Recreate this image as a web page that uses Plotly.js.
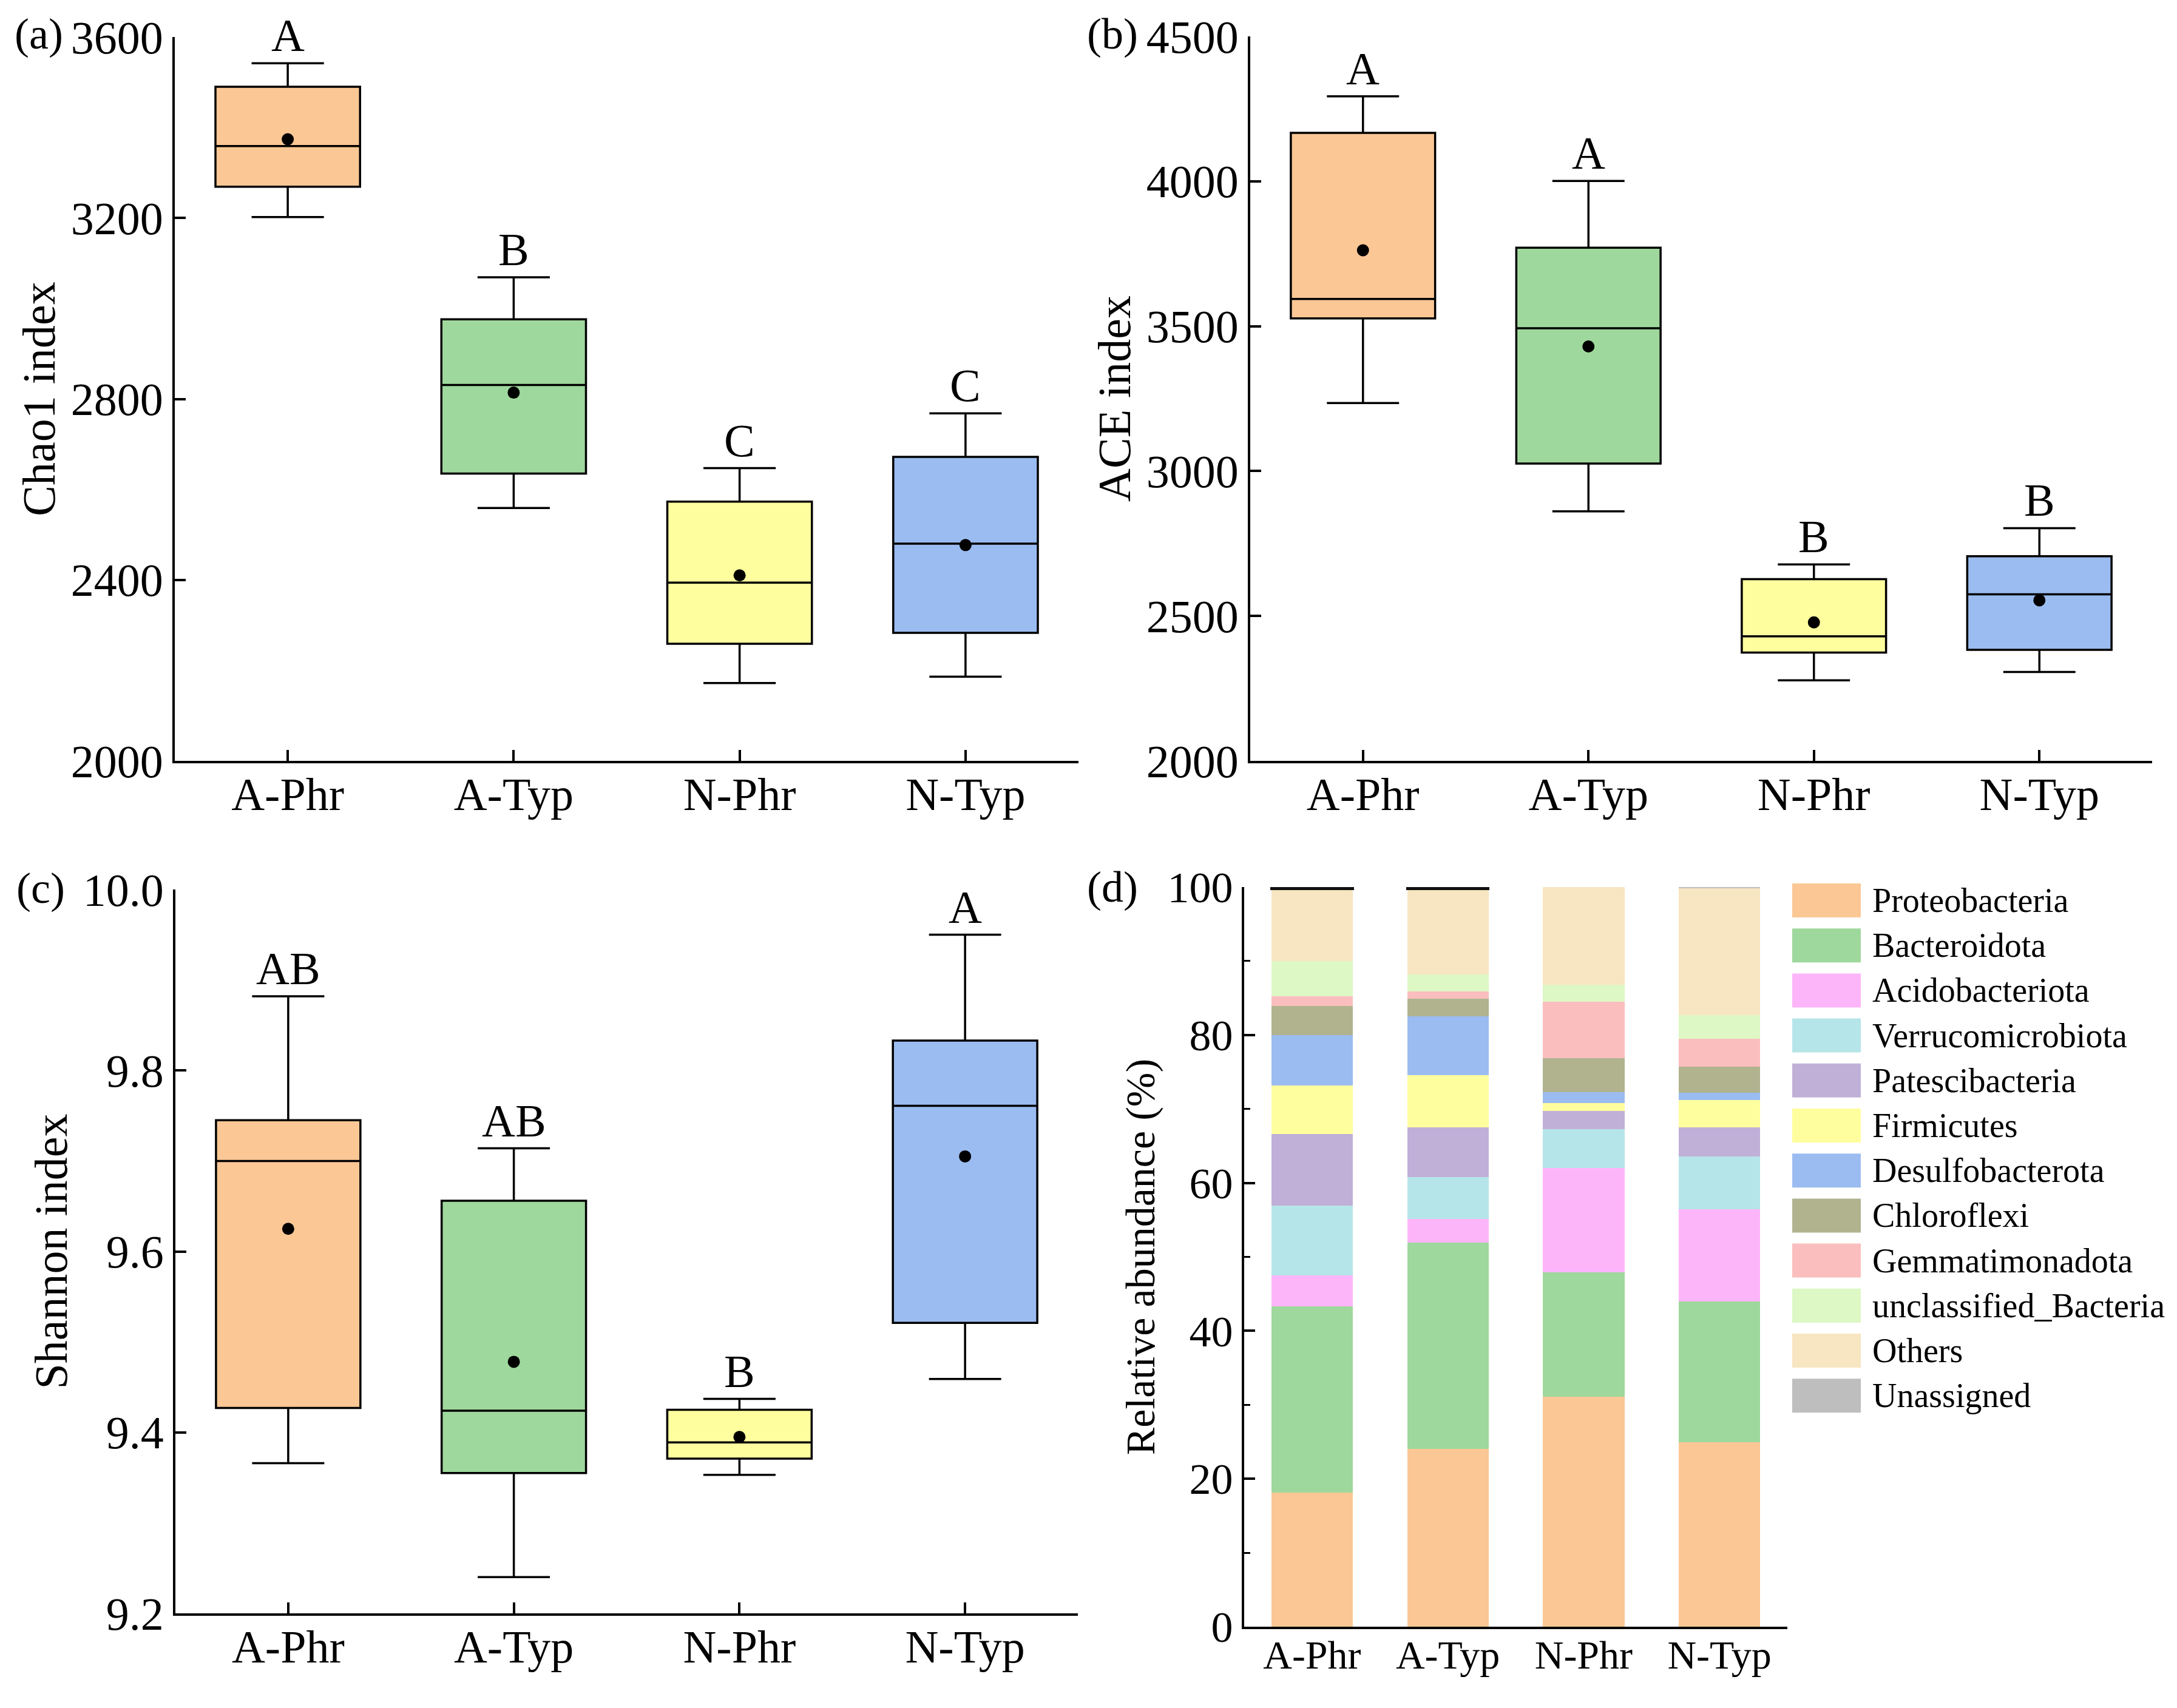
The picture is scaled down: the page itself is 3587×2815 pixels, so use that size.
<!DOCTYPE html>
<html>
<head>
<meta charset="utf-8">
<script src="https://cdn.plot.ly/plotly-3.0.1.min.js"></script>
<style>html,body{margin:0;padding:0;background:#fff;}#chart{width:3587px;height:2815px;}</style>
</head>
<body>
<div id="chart"></div>
<script>
// ---------- data ----------
const groups = ["A-Phr", "A-Typ", "N-Phr", "N-Typ"];
const boxColors = ["#FBC795", "#9FD89C", "#FFFE9E", "#9BBCF0"];

// Chao1 index
const chaoLow   = [3202, 2559, 2172, 2186];
const chaoQ1    = [3269, 2635, 2259, 2283];
const chaoMed   = [3359, 2831, 2394, 2480];
const chaoQ3    = [3490, 2976, 2573, 2672];
const chaoHigh  = [3542, 3069, 2647, 2768];
const chaoMean  = [3374, 2814, 2410, 2477];
const chaoLetters = ["A", "B", "C", "C"];

// ACE index
const aceLow   = [3235, 2861, 2278, 2307];
const aceQ1    = [3527, 3026, 2374, 2383];
const aceMed   = [3594, 3493, 2430, 2575];
const aceQ3    = [4167, 3771, 2627, 2706];
const aceHigh  = [4293, 4001, 2678, 2803];
const aceMean  = [3762, 3430, 2478, 2554];
const aceLetters = ["A", "A", "B", "B"];

// Shannon index
const shanLow   = [9.366, 9.240, 9.353, 9.459];
const shanQ1    = [9.427, 9.355, 9.371, 9.521];
const shanMed   = [9.700, 9.424, 9.389, 9.761];
const shanQ3    = [9.745, 9.656, 9.425, 9.833];
const shanHigh  = [9.882, 9.714, 9.437, 9.950];
const shanMean  = [9.625, 9.478, 9.395, 9.705];
const shanLetters = ["AB", "AB", "B", "A"];

// Relative abundance (%) by phylum, for A-Phr, A-Typ, N-Phr, N-Typ
const phyla = ["Proteobacteria", "Bacteroidota", "Acidobacteriota", "Verrucomicrobiota",
  "Patescibacteria", "Firmicutes", "Desulfobacterota", "Chloroflexi", "Gemmatimonadota",
  "unclassified_Bacteria", "Others", "Unassigned"];
const phylaColors = ["#FBC795", "#9FD89C", "#FDB5FA", "#B5E5E9", "#C0B0D7", "#FFFE9E",
  "#9BBCF0", "#B0B38E", "#FBBEBE", "#DDF8C4", "#F8E5C1", "#BEBEBE"];
const proteobacteria   = [18.1, 24.0, 31.1, 24.9];
const bacteroidota     = [25.2, 27.9, 16.8, 19.1];
const acidobacteriota  = [4.2, 3.2, 14.1, 12.4];
const verrucomicrobiota= [9.4, 5.7, 5.3, 7.2];
const patescibacteria  = [9.7, 6.7, 2.4, 3.9];
const firmicutes       = [6.6, 7.1, 1.1, 3.7];
const desulfobacterota = [6.8, 7.9, 1.5, 1.0];
const chloroflexi      = [3.9, 2.4, 4.6, 3.5];
const gemmatimonadota  = [1.3, 1.0, 7.6, 3.8];
const unclassifiedBact = [4.8, 2.3, 2.3, 3.2];
const others           = [9.7, 11.5, 13.2, 17.1];
const unassigned       = [0.3, 0.3, 0.0, 0.2];
const abundance = [proteobacteria, bacteroidota, acidobacteriota, verrucomicrobiota,
  patescibacteria, firmicutes, desulfobacterota, chloroflexi, gemmatimonadota,
  unclassifiedBact, others, unassigned];

// ---------- build ----------
const FONT = "Liberation Serif, Times New Roman, serif";
const W = 3587, H = 2815;
const traces = [];
const annotations = [];
const shapes = [];

function addBoxPanel(xa, ya, low, q1, med, q3, high, mean, letters) {
  groups.forEach((g, i) => {
    traces.push({
      type: "box", x: [g], q1: [q1[i]], median: [med[i]], q3: [q3[i]],
      lowerfence: [low[i]], upperfence: [high[i]],
      xaxis: xa, yaxis: ya, width: 0.64, whiskerwidth: 0.5,
      fillcolor: boxColors[i], line: {color: "#000", width: 3.5},
      boxpoints: false, showlegend: false, hoverinfo: "skip"
    });
    annotations.push({
      xref: xa, yref: ya, x: g, y: high[i], text: letters[i],
      showarrow: false, yanchor: "bottom", yshift: 2,
      font: {family: FONT, size: 76, color: "#000"}
    });
  });
  traces.push({
    type: "scatter", mode: "markers", x: groups, y: mean, xaxis: xa, yaxis: ya,
    marker: {color: "#000", size: 20, symbol: "circle"}, showlegend: false, hoverinfo: "skip"
  });
}

addBoxPanel("x", "y", chaoLow, chaoQ1, chaoMed, chaoQ3, chaoHigh, chaoMean, chaoLetters);
addBoxPanel("x2", "y2", aceLow, aceQ1, aceMed, aceQ3, aceHigh, aceMean, aceLetters);
addBoxPanel("x3", "y3", shanLow, shanQ1, shanMed, shanQ3, shanHigh, shanMean, shanLetters);

phyla.forEach((p, k) => {
  const isUn = p === "Unassigned";
  traces.push({
    type: "bar", x: groups, y: abundance[k], name: p, xaxis: "x4", yaxis: "y4",
    width: 0.6,
    marker: {color: phylaColors[k],
      line: isUn ? {width: [3, 3, 0, 0], color: "#111"} : {width: 0}},
    showlegend: false, hoverinfo: "skip"
  });
});

// manual legend for panel (d)
const legTop = 1484, legStep = 74.2, legHalf = 28;
phyla.forEach((p, k) => {
  const cy = legTop + k * legStep;
  shapes.push({
    type: "rect", xref: "paper", yref: "paper",
    x0: 2953 / W, x1: 3066 / W, y0: 1 - (cy - legHalf) / H, y1: 1 - (cy + legHalf) / H,
    fillcolor: phylaColors[k], line: {width: 0}
  });
  annotations.push({
    xref: "paper", yref: "paper", x: 3083 / W, y: 1 - cy / H, text: p,
    xanchor: "left", yanchor: "middle", showarrow: false,
    font: {family: FONT, size: 56, color: "#000"}
  });
});

// panel labels
[["(a)", 22, 56], ["(b)", 1789, 56], ["(c)", 25, 1464], ["(d)", 1789, 1462]].forEach(l => {
  annotations.push({
    xref: "paper", yref: "paper", x: l[1] / W, y: 1 - l[2] / H, text: l[0],
    xanchor: "left", yanchor: "middle", showarrow: false,
    font: {family: FONT, size: 72, color: "#000"}
  });
});

const axCommon = {
  showline: true, linecolor: "#000", linewidth: 4, ticks: "inside", ticklen: 18,
  tickwidth: 4, tickcolor: "#000", showgrid: false, zeroline: false,
  tickfont: {family: FONT, size: 76, color: "#000"}, automargin: false, fixedrange: true
};
function xAx(domain, anchor, extra) {
  return Object.assign({}, axCommon, {
    domain: domain, anchor: anchor, type: "category", range: [-0.5, 3.5],
    categoryorder: "array", categoryarray: groups, ticklabelstandoff: -14
  }, extra || {});
}
function yAx(domain, anchor, range, dtick, title, extra) {
  return Object.assign({}, axCommon, {
    domain: domain, anchor: anchor, range: range, dtick: dtick, tick0: range[0],
    title: {text: title, font: {family: FONT, size: 76, color: "#000"}, standoff: 2}
  }, extra || {});
}

const layout = {
  width: W, height: H, margin: {l: 0, r: 0, t: 0, b: 0},
  paper_bgcolor: "#fff", plot_bgcolor: "rgba(0,0,0,0)",
  boxmode: "overlay", barmode: "stack", showlegend: false,
  font: {family: FONT, color: "#000"},
  xaxis:  xAx([288 / W, 1777 / W], "y"),
  yaxis:  yAx([1 - 1254 / H, 1 - 61 / H], "x", [2000, 3600], 400, "Chao1 index"),
  xaxis2: xAx([2060 / W, 3546 / W], "y2"),
  yaxis2: yAx([1 - 1254 / H, 1 - 60 / H], "x2", [2000, 4500], 500, "ACE index"),
  xaxis3: xAx([289 / W, 1776 / W], "y3"),
  yaxis3: yAx([1 - 2659 / H, 1 - 1466 / H], "x3", [9.2, 10.0], 0.2, "Shannon index", {tickformat: ".1f"}),
  xaxis4: xAx([2050 / W, 2945 / W], "y4", {ticks: "", tickfont: {family: FONT, size: 66, color: "#000"}}),
  yaxis4: yAx([1 - 2681 / H, 1 - 1462 / H], "x4", [0, 100], 20, "Relative abundance (%)",
    {tickfont: {family: FONT, size: 72, color: "#000"},
     title: {text: "Relative abundance (%)", font: {family: FONT, size: 68, color: "#000"}, standoff: 0},
     minor: {ticks: "inside", dtick: 10, ticklen: 10, tickwidth: 3, tickcolor: "#000"}}),
  annotations: annotations, shapes: shapes
};

Plotly.newPlot("chart", traces, layout, {staticPlot: true, displayModeBar: false});
</script>
</body>
</html>
